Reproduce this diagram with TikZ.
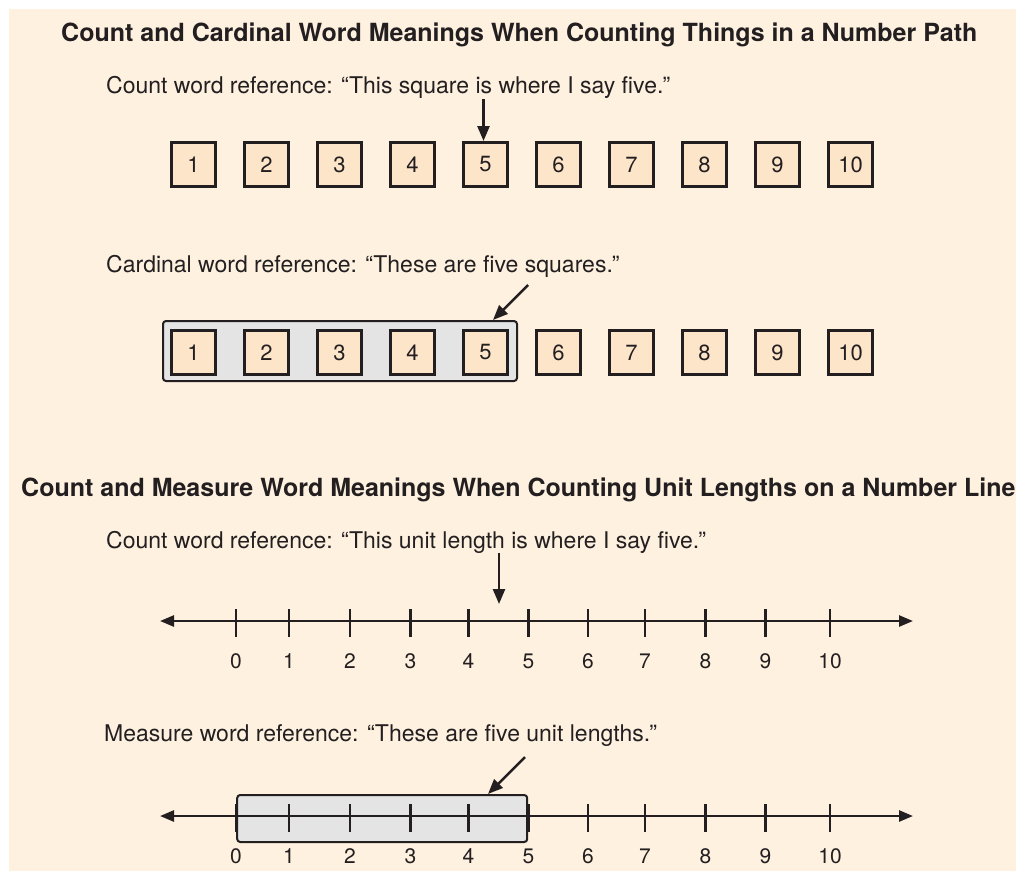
\documentclass[tikz,border=0pt]{standalone}
\usepackage{fontspec}
\setmainfont{TeX Gyre Heros}
\usetikzlibrary{arrows.meta}

\definecolor{paper}{HTML}{FEF1E0}
\definecolor{peach}{HTML}{FDE5CA}
\definecolor{boxgray}{HTML}{E4E4E4}
\definecolor{ink}{HTML}{231F20}

\tikzset{
    sq/.style={draw=ink, line width=3pt, fill=peach, minimum size=44pt, inner sep=0pt, text=ink, font=\fontsize{22}{26}\selectfont},
    heading/.style={anchor=base west, inner sep=0pt, text=ink, font=\fontsize{25}{30}\selectfont\bfseries},
    caption/.style={anchor=base west, inner sep=0pt, text=ink, font=\fontsize{23}{28}\selectfont},
    num/.style={inner sep=0pt, text=ink, font=\fontsize{21}{25}\selectfont},
    pointer/.style={draw=ink, line width=2.5pt, -{Triangle[length=15pt,width=12pt]}},
    axis/.style={draw=ink, line width=2.5pt, {Triangle[length=14pt,width=11pt]}-{Triangle[length=14pt,width=11pt]}},
    tick/.style={draw=ink, line width=2.5pt},
    group/.style={draw=ink, line width=2pt, fill=boxgray, rounded corners=3pt, inner sep=0pt}
}

\begin{document}
\begin{tikzpicture}[x=1pt, y=-1pt]
    % Background
    \clip (0,0) rectangle (1016,871);
    \fill[white] (0,0) rectangle (1016,871);
    \fill[paper] (9,9) rectangle (1016,871);

    % Number path, count word
    \node[heading] (title1) at (61,41) {Count and Cardinal Word Meanings When Counting Things in a Number Path};
    \node[caption] (text1) at (106,93) {Count word reference: “This square is where I say five.”};
    \node[sq] (a1) at (193.5,164.5) {1};
    \node[sq] (a2) at (266.5,164.5) {2};
    \node[sq] (a3) at (339.5,164.5) {3};
    \node[sq] (a4) at (412.5,164.5) {4};
    \node[sq] (a5) at (485.5,164.5) {5};
    \node[sq] (a6) at (558.5,164.5) {6};
    \node[sq] (a7) at (631.5,164.5) {7};
    \node[sq] (a8) at (704.5,164.5) {8};
    \node[sq] (a9) at (777.5,164.5) {9};
    \node[sq] (a10) at (850.5,164.5) {10};
    \coordinate (p1) at (483.5,99);
    \draw[pointer] (p1) -- (p1 |- a5.north);

    % Number path, cardinal word
    \node[caption] (text2) at (106,272) {Cardinal word reference: “These are five squares.”};
    \node[group, minimum width=354pt, minimum height=60pt] (five) at (340,351) {};
    \node[sq] (b1) at (193.5,352.5) {1};
    \node[sq] (b2) at (266.5,352.5) {2};
    \node[sq] (b3) at (339.5,352.5) {3};
    \node[sq] (b4) at (412.5,352.5) {4};
    \node[sq] (b5) at (485.5,352.5) {5};
    \node[sq] (b6) at (558.5,352.5) {6};
    \node[sq] (b7) at (631.5,352.5) {7};
    \node[sq] (b8) at (704.5,352.5) {8};
    \node[sq] (b9) at (777.5,352.5) {9};
    \node[sq] (b10) at (850.5,352.5) {10};
    \coordinate (p2) at (528,285);
    \coordinate (q2) at (493,318);
    \draw[pointer] (p2) -- (q2 |- five.north);

    % Number line, count word
    \node[heading] (title2) at (21,496) {Count and Measure Word Meanings When Counting Unit Lengths on a Number Line};
    \node[caption] (text3) at (106,548) {Count word reference: “This unit length is where I say five.”};
    \coordinate (l1) at (160,621);
    \coordinate (r1) at (913,621);
    \draw[axis] (l1) -- (r1);
    \foreach \x/\n in {236/0, 289/1, 350/2, 410.5/3, 468.5/4, 528.5/5, 588/6, 645/7, 705.5/8, 765.5/9, 830/10} {
        \draw[tick] (\x,609) -- (\x,637);
        \node[num] (m\n) at (\x,661) {\n};
    }
    \coordinate (p3) at (499,553);
    \coordinate (q3) at (499,604);
    \draw[pointer] (p3) -- (q3);

    % Number line, measure word
    \node[caption] (text4) at (104,741) {Measure word reference: “These are five unit lengths.”};
    \node[group, minimum width=290pt, minimum height=47pt] (unit5) at (382.2,818.5) {};
    \coordinate (l2) at (160,816);
    \coordinate (r2) at (913,816);
    \draw[axis] (l2) -- (r2);
    \foreach \x/\n in {236/0, 289/1, 350/2, 410.5/3, 468.5/4, 528.5/5, 588/6, 645/7, 705.5/8, 765.5/9, 830/10} {
        \draw[tick] (\x,804) -- (\x,832);
        \node[num] (u\n) at (\x,856) {\n};
    }
    \coordinate (p4) at (525,757);
    \coordinate (q4) at (488,792);
    \draw[pointer] (p4) -- (q4 |- unit5.north);
\end{tikzpicture}
\end{document}
